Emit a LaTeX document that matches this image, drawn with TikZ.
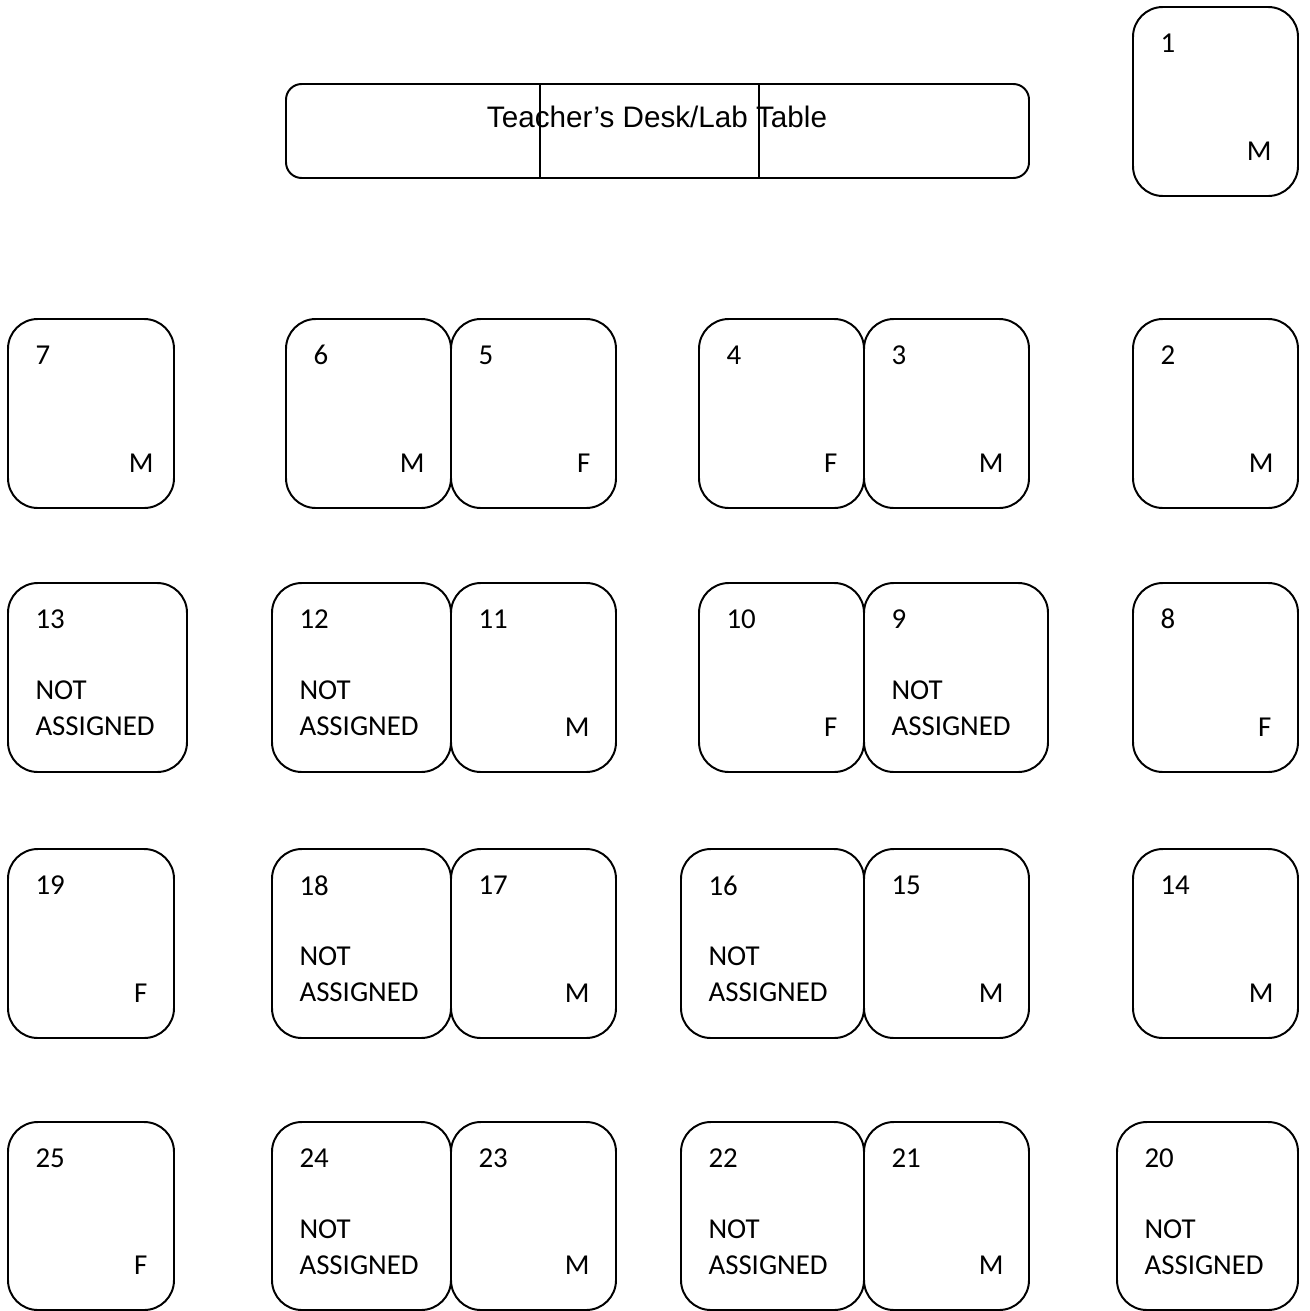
\documentclass[tikz,border=0pt]{standalone}
\usepackage{fontspec}
\setmainfont{Carlito}
\newfontfamily\deskfont{Liberation Sans}
\usepackage{tikz}
\usetikzlibrary{positioning, fit, calc}

\begin{document}
\begin{tikzpicture}[
    x=0.0134cm, y=-0.0134cm,
    seat/.style={draw, line width=0.75pt, rounded corners=0.4cm, inner sep=0pt},
    desk/.style={draw, line width=0.75pt, rounded corners=0.21cm, inner sep=0pt},
    seatno/.style={anchor=west, inner sep=0pt, font=\fontsize{11}{13.7}\selectfont},
    gender/.style={anchor=east, inner sep=0pt, font=\fontsize{11}{13.7}\selectfont},
    vacant/.style={anchor=west, inner sep=0pt, align=left, font=\fontsize{11}{13.7}\selectfont}
]
\useasboundingbox (0,0) rectangle (1310,1311);

% front
\node[desk, fit={(286,84) (1029,178)}] (desk) {};
\draw[line width=0.75pt] ($(desk.north west)+(255,0)$) -- ($(desk.south west)+(255,0)$);
\draw[line width=0.75pt] ($(desk.north west)+(474,0)$) -- ($(desk.south west)+(474,0)$);
\node[inner sep=0pt, font=\deskfont\fontsize{11.3}{13}\selectfont] (desklbl) at (657,117) {Teacher’s Desk/Lab Table};

\node[seat, fit={(1133,7) (1298,196)}] (s1) {};
\node[seatno] (n1) at ($(s1.north west)+(28,37)$) {1};
\node[gender] (g1) at ($(s1.south east)+(-27,-46)$) {M};

% row 1
\node[seat, fit={(8,319) (174,508)}] (s7) {};
\node[seatno] (n7) at ($(s7.north west)+(28,37)$) {7};
\node[gender] (g7) at ($(s7.south east)+(-21,-46)$) {M};
\node[seat, fit={(286,319) (451,508)}] (s6) {};
\node[seatno] (n6) at ($(s6.north west)+(28,37)$) {6};
\node[gender] (g6) at ($(s6.south east)+(-27,-46)$) {M};
\node[seat, fit={(451,319) (616,508)}] (s5) {};
\node[seatno] (n5) at ($(s5.north west)+(28,37)$) {5};
\node[gender] (g5) at ($(s5.south east)+(-26,-46)$) {F};
\node[seat, fit={(699,319) (864,508)}] (s4) {};
\node[seatno] (n4) at ($(s4.north west)+(28,37)$) {4};
\node[gender] (g4) at ($(s4.south east)+(-27,-46)$) {F};
\node[seat, fit={(864,319) (1029,508)}] (s3) {};
\node[seatno] (n3) at ($(s3.north west)+(28,37)$) {3};
\node[gender] (g3) at ($(s3.south east)+(-26,-46)$) {M};
\node[seat, fit={(1133,319) (1298,508)}] (s2) {};
\node[seatno] (n2) at ($(s2.north west)+(28,37)$) {2};
\node[gender] (g2) at ($(s2.south east)+(-25,-46)$) {M};

% row 2
\node[seat, fit={(8,583) (187,772)}] (s13) {};
\node[seatno] (n13) at ($(s13.north west)+(28,37)$) {13};
\node[vacant] (v13) at ($(s13.north west)+(28,126)$) {NOT\\ASSIGNED};
\node[seat, fit={(272,583) (451,772)}] (s12) {};
\node[seatno] (n12) at ($(s12.north west)+(28,37)$) {12};
\node[vacant] (v12) at ($(s12.north west)+(28,126)$) {NOT\\ASSIGNED};
\node[seat, fit={(451,583) (616,772)}] (s11) {};
\node[seatno] (n11) at ($(s11.north west)+(28,37)$) {11};
\node[gender] (g11) at ($(s11.south east)+(-27,-46)$) {M};
\node[seat, fit={(699,583) (864,772)}] (s10) {};
\node[seatno] (n10) at ($(s10.north west)+(28,37)$) {10};
\node[gender] (g10) at ($(s10.south east)+(-27,-46)$) {F};
\node[seat, fit={(864,583) (1048,772)}] (s9) {};
\node[seatno] (n9) at ($(s9.north west)+(28,37)$) {9};
\node[vacant] (v9) at ($(s9.north west)+(28,126)$) {NOT\\ASSIGNED};
\node[seat, fit={(1133,583) (1298,772)}] (s8) {};
\node[seatno] (n8) at ($(s8.north west)+(28,37)$) {8};
\node[gender] (g8) at ($(s8.south east)+(-27,-46)$) {F};

% row 3
\node[seat, fit={(8,849) (174,1038)}] (s19) {};
\node[seatno] (n19) at ($(s19.north west)+(28,37)$) {19};
\node[gender] (g19) at ($(s19.south east)+(-27,-46)$) {F};
\node[seat, fit={(272,849) (451,1038)}] (s18) {};
\node[seatno] (n18) at ($(s18.north west)+(28,38)$) {18};
\node[vacant] (v18) at ($(s18.north west)+(28,126)$) {NOT\\ASSIGNED};
\node[seat, fit={(451,849) (616,1038)}] (s17) {};
\node[seatno] (n17) at ($(s17.north west)+(28,37)$) {17};
\node[gender] (g17) at ($(s17.south east)+(-27,-46)$) {M};
\node[seat, fit={(681,849) (864,1038)}] (s16) {};
\node[seatno] (n16) at ($(s16.north west)+(28,38)$) {16};
\node[vacant] (v16) at ($(s16.north west)+(28,126)$) {NOT\\ASSIGNED};
\node[seat, fit={(864,849) (1029,1038)}] (s15) {};
\node[seatno] (n15) at ($(s15.north west)+(28,37)$) {15};
\node[gender] (g15) at ($(s15.south east)+(-26,-46)$) {M};
\node[seat, fit={(1133,849) (1298,1038)}] (s14) {};
\node[seatno] (n14) at ($(s14.north west)+(28,37)$) {14};
\node[gender] (g14) at ($(s14.south east)+(-25,-46)$) {M};

% row 4
\node[seat, fit={(8,1122) (174,1310)}] (s25) {};
\node[seatno] (n25) at ($(s25.north west)+(28,37)$) {25};
\node[gender] (g25) at ($(s25.south east)+(-27,-46)$) {F};
\node[seat, fit={(272,1122) (451,1310)}] (s24) {};
\node[seatno] (n24) at ($(s24.north west)+(28,37)$) {24};
\node[vacant] (v24) at ($(s24.north west)+(28,126)$) {NOT\\ASSIGNED};
\node[seat, fit={(451,1122) (616,1310)}] (s23) {};
\node[seatno] (n23) at ($(s23.north west)+(28,37)$) {23};
\node[gender] (g23) at ($(s23.south east)+(-27,-46)$) {M};
\node[seat, fit={(681,1122) (864,1310)}] (s22) {};
\node[seatno] (n22) at ($(s22.north west)+(28,37)$) {22};
\node[vacant] (v22) at ($(s22.north west)+(28,126)$) {NOT\\ASSIGNED};
\node[seat, fit={(864,1122) (1029,1310)}] (s21) {};
\node[seatno] (n21) at ($(s21.north west)+(28,37)$) {21};
\node[gender] (g21) at ($(s21.south east)+(-26,-46)$) {M};
\node[seat, fit={(1117,1122) (1298,1310)}] (s20) {};
\node[seatno] (n20) at ($(s20.north west)+(28,37)$) {20};
\node[vacant] (v20) at ($(s20.north west)+(28,126)$) {NOT\\ASSIGNED};
\end{tikzpicture}
\end{document}
